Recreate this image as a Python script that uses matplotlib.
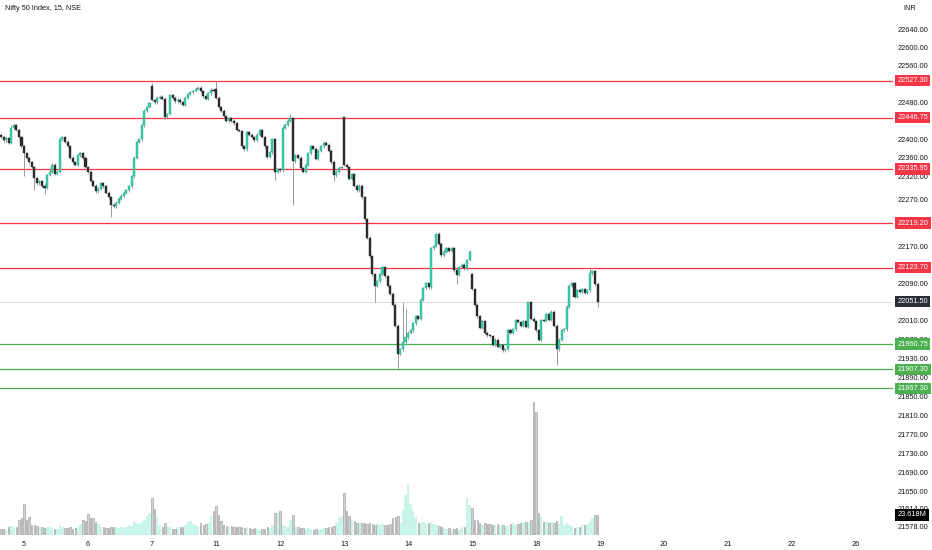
import matplotlib.pyplot as plt
import matplotlib.transforms as mtransforms
from matplotlib.ticker import NullLocator
import numpy as np

plt.rcParams['font.family'] = ['Liberation Sans', 'DejaVu Sans']

# 15 min closes, one row per session (4 Mar partial, then 5,6,7,11,12,13,14,15,18 Mar)
closes = [
    22405, 22398, 22402, 22393, 22425, 22430, 22420, 22405, 22385,
    22370, 22360, 22350, 22340, 22316, 22305, 22310, 22300, 22295, 22323, 22330, 22345, 22325,
    22330, 22400, 22405, 22395, 22385, 22360, 22350, 22345, 22365, 22370, 22360, 22340,
    22330, 22310, 22300, 22288, 22293, 22305, 22298, 22285, 22275, 22259, 22255, 22263, 22272,
    22278, 22285, 22290, 22298, 22320, 22360, 22395, 22400, 22430, 22462, 22470, 22478,
    22485, 22480, 22490, 22492, 22488, 22448, 22455, 22496, 22490, 22482, 22486, 22480, 22475,
    22490, 22498, 22502, 22505, 22510, 22512, 22505, 22493, 22488, 22500, 22508, 22505,
    22490, 22470, 22462, 22450, 22440, 22446, 22440, 22435, 22420, 22418, 22385, 22378, 22415,
    22410, 22405, 22398, 22410, 22420, 22405, 22385, 22362, 22372, 22400, 22330, 22335,
    22333, 22425, 22432, 22440, 22446, 22352, 22365, 22360, 22338, 22330, 22345, 22370, 22385,
    22380, 22358, 22375, 22385, 22393, 22388, 22375, 22350, 22322, 22330, 22338, 22340,
    22345, 22340, 22315, 22325, 22300, 22290, 22300, 22275, 22228, 22188, 22148, 22110, 22085,
    22095, 22110, 22125, 22105, 22085, 22068, 22045, 22000, 21940, 21950, 21965, 21975,
    21985, 21990, 22005, 22020, 22015, 22055, 22080, 22090, 22082, 22165, 22170, 22195, 22175,
    22150, 22158, 22165, 22160, 22165, 22118, 22108, 22125, 22130, 22122, 22140, 22158,
    22078, 22045, 22020, 21995, 22010, 21985, 21980, 21978, 21960, 21970, 21955, 21958, 21948,
    21950, 21990, 21985, 21992, 22012, 22008, 22000, 22010, 21998, 22050, 22015, 22010,
    21990, 21970, 22012, 22010, 22025, 22012, 22030, 22000, 21950, 21970, 21990, 21992, 22040,
    22085, 22090, 22062, 22075, 22072, 22078, 22070, 22075, 22112, 22116, 22088, 22051.5,
]
first_open = 22410
gap_opens = {59: 22516, 84: 22510, 134: 22449, 184: 22110}
long_highs = {4: 22432, 59: 22522, 84: 22527, 113: 22455, 134: 22449, 157: 22050,
              158: 22035, 171: 22200, 230: 22125}
long_lows = {9: 22320, 13: 22290, 17: 22282, 43: 22232, 107: 22312, 114: 22259,
             130: 22310, 146: 22050, 155: 21907, 178: 22088, 217: 21917, 233: 22040}

# volume in millions
volumes = [
    7, 7, 6, 10, 11, 10, 9, 18, 20,
    37, 18, 21, 12, 12, 11, 10, 9, 8, 10, 9, 8, 7, 7, 12, 9, 8, 8, 9, 7, 8, 9, 13, 18, 16,
    25, 20, 20, 15, 13, 10, 10, 8, 8, 9, 10, 9, 8, 9, 8, 10, 12, 11, 16, 14, 13, 15, 18, 22, 26,
    44, 31, 21, 12, 10, 14, 10, 9, 7, 7, 9, 10, 9, 12, 15, 17, 13, 12, 11, 14, 12, 13, 14, 22, 28,
    34, 24, 17, 12, 11, 10, 11, 9, 10, 9, 10, 8, 9, 8, 7, 8, 7, 6, 7, 7, 9, 8, 12, 26, 26,
    28, 12, 11, 10, 18, 24, 9, 9, 8, 8, 7, 8, 7, 6, 7, 6, 7, 8, 8, 9, 10, 11, 14, 20, 22,
    50, 28, 22, 19, 17, 14, 14, 14, 14, 13, 14, 13, 12, 13, 12, 13, 12, 12, 13, 20, 21, 22, 14, 30, 47,
    59, 36, 28, 21, 14, 14, 15, 13, 14, 15, 13, 12, 11, 9, 8, 7, 8, 6, 7, 8, 7, 9, 10, 43, 35,
    32, 18, 18, 14, 12, 14, 13, 13, 12, 12, 13, 12, 12, 11, 12, 13, 14, 12, 13, 14, 15, 15, 15, 18, 157,
    145, 26, 21, 15, 15, 14, 15, 14, 16, 13, 22, 12, 14, 12, 11, 8, 9, 10, 12, 12, 13, 16, 20, 24, 23.618,
]

red_levels = [22527.30, 22446.75, 22335.95, 22219.20, 22123.70]
green_levels = [21960.75, 21907.30, 21867.30]
last_price = 22051.50

price_ticks = [22640, 22600, 22560, 22480, 22400, 22360, 22320, 22270,
               22170, 22130, 22090, 22010, 21970, 21930, 21890, 21850, 21810, 21770,
               21730, 21690, 21650, 21614, 21578]
day_labels = ['5', '6', '7', '11', '12', '13', '14', '15', '18', '19', '20', '21', '22', '26']
day_starts = [9, 34, 59, 84, 109, 134, 159, 184, 209, 234, 259, 284, 309, 334]

closes = np.array(closes, dtype=float)
opens = np.concatenate([[first_open], closes[:-1]])
for i, v in gap_opens.items():
    opens[i] = v
x = np.arange(len(closes))
top = np.maximum(opens, closes)
bot = np.minimum(opens, closes)
highs = top + 3
lows = bot - 3
for i, v in long_highs.items():
    highs[i] = v
for i, v in long_lows.items():
    lows[i] = v
up = closes >= opens

fig = plt.figure(figsize=(9.32, 5.5), dpi=100)
ax = fig.add_axes([0, 15 / 550, 893 / 932, 535 / 550])
axv = ax.twinx()

vol = np.array(volumes)
axv.bar(x[up], vol[up], width=1.0, color='#c8f4ea', linewidth=0)
axv.bar(x[~up], vol[~up], width=0.55, color='#d3d3d3', edgecolor='#a6a6a6', linewidth=0.5)
axv.set_ylim(0, 630)
axv.set_axis_off()
ax.set_zorder(axv.get_zorder() + 1)
ax.patch.set_visible(False)

for p in red_levels:
    ax.axhline(p, color='#f23645', lw=0.9, zorder=1)
for p in green_levels:
    ax.axhline(p, color='#4caf50', lw=0.9, zorder=1)
ax.axhline(last_price, color='#dcdcdc', lw=0.7, zorder=1)

ax.vlines(x, lows, highs, color='#9a9a9a', lw=0.7, zorder=2)
ax.bar(x, np.maximum(top - bot, 1.2), bottom=bot, width=0.8,
       color=np.where(up, '#37d3b0', '#2a2a2a'),
       edgecolor=np.where(up, '#2a9d86', '#2a2a2a'), linewidth=0.3, zorder=3)

ax.set_yscale('log')
ax.set_ylim(21559.4, 22703.6)
ax.set_xlim(-0.39, 348.4)
ax.yaxis.tick_right()
ax.set_yticks(price_ticks)
ax.set_yticklabels([f'{v:.2f}' for v in price_ticks])
ax.yaxis.set_minor_locator(NullLocator())
ax.tick_params(axis='y', length=0, pad=3.6, labelsize=5.3, labelcolor='#131722')
ax.set_xticks(day_starts)
ax.set_xticklabels(day_labels)
ax.tick_params(axis='x', length=0, pad=4.5, labelsize=5.3, labelcolor='#131722')
for s in ax.spines.values():
    s.set_visible(False)

trans = mtransforms.blended_transform_factory(ax.transAxes, ax.transData)
box = dict(boxstyle='square,pad=0.3', ec='none')
for p in red_levels:
    ax.text(1.005, p, f'{p:.2f}', transform=trans, fontsize=5.3, color='white',
            va='center', ha='left', bbox={**box, 'fc': '#f23645'}, zorder=10)
for p in green_levels:
    ax.text(1.005, p, f'{p:.2f}', transform=trans, fontsize=5.3, color='white',
            va='center', ha='left', bbox={**box, 'fc': '#4caf50'}, zorder=10)
ax.text(1.005, last_price, f'{last_price:.2f}', transform=trans, fontsize=5.3, color='white',
        va='center', ha='left', bbox={**box, 'fc': '#2a2e39'}, zorder=10)
vtrans = mtransforms.blended_transform_factory(axv.transAxes, axv.transData)
axv.text(1.005, volumes[-1], f'{volumes[-1]:.3f}M', transform=vtrans, fontsize=5.3,
         color='white', va='center', ha='left', bbox={**box, 'fc': '#000000'}, zorder=10)

fig.text(5 / 932, 1 - 9 / 550, 'Nifty 50 Index, 15, NSE', fontsize=5.3, va='center',
         color='#131722')
fig.text(903 / 932, 1 - 9 / 550, 'INR', fontsize=5.3, va='center', color='#131722')

fig.savefig('out.png', dpi=100)
